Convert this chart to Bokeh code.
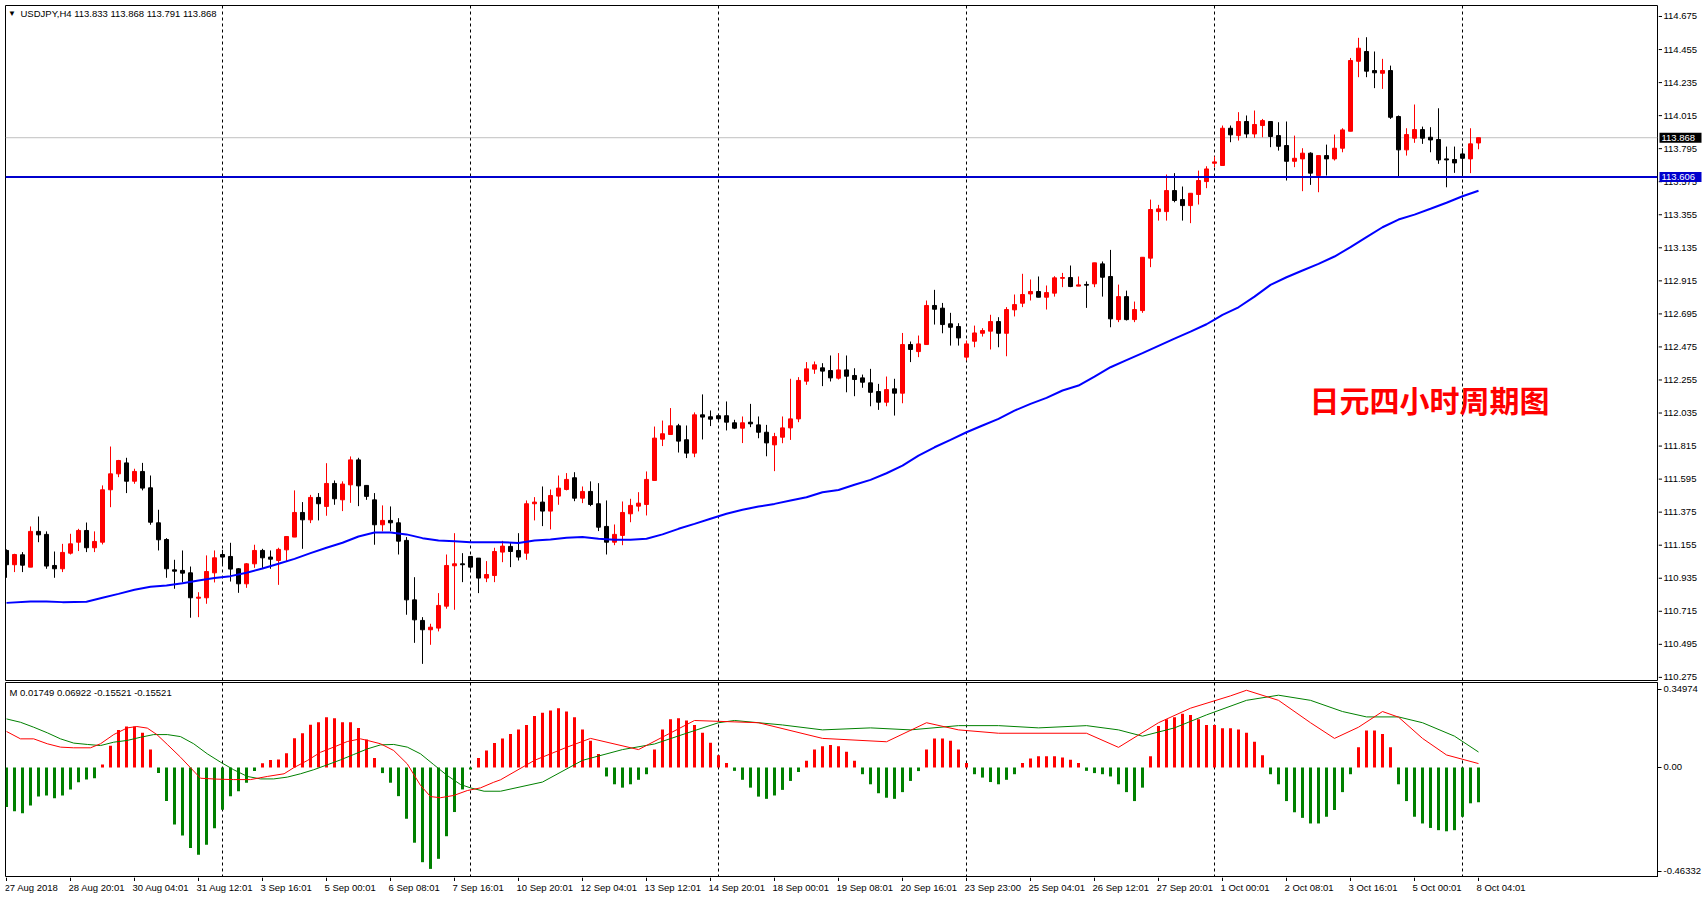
from bokeh.plotting import figure
from bokeh.layouts import column, row
from bokeh.models import (Range1d, FixedTicker, Label, Span, CustomJSTickFormatter, ColumnDataSource)
from bokeh.core.properties import value
from bokeh.embed import file_html
from bokeh.resources import INLINE

# ---------------- data (USDJPY H4) ----------------
opens = [111.120, 111.025, 111.091, 111.009, 111.247, 111.227, 111.020, 110.998, 111.102, 111.175,
         111.253, 111.138, 111.175, 111.524, 111.630, 111.703, 111.581, 111.646, 111.537, 111.304,
         111.193, 110.991, 110.987, 110.971, 110.802, 110.805, 110.971, 111.093, 111.080, 110.998,
         110.898, 111.031, 111.120, 111.076, 111.053, 111.124, 111.209, 111.373, 111.324, 111.473,
         111.413, 111.566, 111.457, 111.557, 111.723, 111.553, 111.457, 111.291, 111.320, 111.304,
         111.187, 110.791, 110.654, 110.592, 110.603, 110.749, 111.018, 111.031, 111.080, 111.069,
         110.936, 110.953, 111.109, 111.147, 111.120, 111.102, 111.431, 111.442, 111.382, 111.482,
         111.526, 111.604, 111.468, 111.513, 111.431, 111.280, 111.175, 111.220, 111.364, 111.415,
         111.426, 111.586, 111.861, 111.892, 111.950, 111.857, 111.768, 112.023, 112.010, 112.017,
         112.017, 111.970, 111.934, 111.974, 111.956, 111.907, 111.823, 111.874, 111.936, 111.996,
         112.247, 112.327, 112.336, 112.318, 112.267, 112.322, 112.285, 112.269, 112.236, 112.178,
         112.107, 112.196, 112.167, 112.491, 112.444, 112.491, 112.751, 112.733, 112.629, 112.611,
         112.407, 112.513, 112.566, 112.580, 112.644, 112.566, 112.722, 112.766, 112.828, 112.844,
         112.806, 112.833, 112.932, 112.937, 112.880, 112.891, 112.895, 113.028, 112.944, 112.657,
         112.810, 112.657, 112.717, 113.066, 113.376, 113.376, 113.516, 113.456, 113.416, 113.490,
         113.576, 113.698, 113.683, 113.931, 113.882, 113.976, 113.893, 113.949, 113.976, 113.882,
         113.816, 113.711, 113.727, 113.765, 113.616, 113.749, 113.727, 113.798, 113.911, 114.377,
         114.442, 114.315, 114.297, 114.315, 114.009, 113.787, 113.865, 113.922, 113.871, 113.856,
         113.727, 113.723, 113.760, 113.727, 113.833]
highs = [111.127, 111.098, 111.109, 111.280, 111.346, 111.247, 111.113, 111.164, 111.231, 111.264,
         111.306, 111.247, 111.553, 111.812, 111.723, 111.737, 111.664, 111.703, 111.619, 111.391,
         111.202, 111.058, 111.120, 111.013, 110.842, 111.087, 111.120, 111.124, 111.171, 111.002,
         111.036, 111.158, 111.131, 111.120, 111.138, 111.213, 111.520, 111.442, 111.490, 111.502,
         111.701, 111.586, 111.580, 111.746, 111.737, 111.553, 111.502, 111.420, 111.413, 111.335,
         111.209, 110.942, 110.676, 110.632, 110.836, 111.093, 111.235, 111.102, 111.080, 111.069,
         111.049, 111.138, 111.184, 111.169, 111.235, 111.453, 111.475, 111.546, 111.526, 111.619,
         111.635, 111.641, 111.546, 111.580, 111.568, 111.453, 111.293, 111.446, 111.464, 111.508,
         111.646, 111.945, 111.985, 112.068, 111.963, 111.952, 112.039, 112.159, 112.052, 112.030,
         112.112, 111.990, 112.012, 112.096, 112.012, 111.956, 111.903, 112.012, 112.263, 112.274,
         112.374, 112.378, 112.367, 112.418, 112.434, 112.418, 112.333, 112.291, 112.329, 112.229,
         112.278, 112.263, 112.568, 112.511, 112.551, 112.784, 112.855, 112.768, 112.702, 112.633,
         112.518, 112.617, 112.600, 112.689, 112.673, 112.740, 112.824, 112.962, 112.924, 112.944,
         112.884, 112.946, 112.968, 113.017, 112.944, 112.911, 113.035, 113.044, 113.121, 112.890,
         112.850, 112.777, 113.072, 113.456, 113.421, 113.623, 113.632, 113.543, 113.498, 113.649,
         113.678, 113.743, 113.949, 113.949, 114.038, 114.016, 114.049, 113.993, 113.976, 113.971,
         113.976, 113.882, 113.798, 113.771, 113.749, 113.822, 113.889, 113.931, 114.399, 114.533,
         114.537, 114.442, 114.393, 114.348, 114.016, 113.931, 114.089, 113.942, 113.938, 114.064,
         113.809, 113.809, 113.798, 113.931, 113.868]
lows = [110.938, 110.976, 110.976, 111.009, 111.175, 110.998, 110.938, 110.976, 111.093, 111.116,
        111.109, 111.109, 111.160, 111.408, 111.608, 111.502, 111.564, 111.520, 111.291, 111.120,
        110.938, 110.865, 110.907, 110.672, 110.676, 110.765, 110.907, 111.020, 110.913, 110.838,
        110.871, 111.004, 111.004, 110.998, 110.891, 111.049, 111.209, 111.131, 111.302, 111.320,
        111.351, 111.424, 111.382, 111.437, 111.415, 111.457, 111.158, 111.247, 111.247, 111.093,
        110.692, 110.505, 110.365, 110.492, 110.581, 110.732, 110.725, 110.909, 110.982, 110.836,
        110.909, 110.909, 111.042, 111.009, 111.053, 111.058, 111.320, 111.282, 111.260, 111.424,
        111.520, 111.448, 111.435, 111.415, 111.249, 111.093, 111.155, 111.155, 111.308, 111.380,
        111.353, 111.586, 111.815, 111.892, 111.772, 111.735, 111.741, 111.859, 111.948, 111.986,
        111.919, 111.928, 111.835, 111.941, 111.867, 111.747, 111.648, 111.834, 111.856, 111.974,
        112.223, 112.296, 112.214, 112.245, 112.258, 112.173, 112.147, 112.203, 112.080, 112.056,
        112.080, 112.018, 112.100, 112.374, 112.407, 112.491, 112.624, 112.566, 112.484, 112.484,
        112.385, 112.473, 112.544, 112.458, 112.473, 112.413, 112.678, 112.740, 112.784, 112.806,
        112.724, 112.810, 112.873, 112.873, 112.880, 112.735, 112.873, 112.810, 112.606, 112.640,
        112.651, 112.640, 112.702, 113.006, 113.316, 113.316, 113.438, 113.316, 113.299, 113.423,
        113.532, 113.672, 113.683, 113.838, 113.849, 113.867, 113.867, 113.871, 113.805, 113.782,
        113.583, 113.672, 113.512, 113.554, 113.505, 113.616, 113.716, 113.771, 113.911, 114.271,
        114.271, 114.198, 114.193, 113.993, 113.609, 113.749, 113.834, 113.827, 113.771, 113.694,
        113.538, 113.634, 113.605, 113.632, 113.791]
closes = [111.025, 111.093, 111.022, 111.247, 111.224, 111.016, 110.998, 111.107, 111.164, 111.253,
          111.138, 111.180, 111.524, 111.630, 111.719, 111.581, 111.646, 111.535, 111.308, 111.191,
          110.998, 110.982, 110.969, 110.805, 110.809, 110.980, 111.071, 111.076, 110.996, 110.898,
          111.031, 111.120, 111.071, 111.062, 111.127, 111.213, 111.373, 111.324, 111.473, 111.431,
          111.566, 111.464, 111.562, 111.723, 111.550, 111.480, 111.291, 111.320, 111.304, 111.182,
          110.791, 110.658, 110.592, 110.609, 110.754, 111.020, 111.031, 111.025, 111.009, 110.936,
          110.960, 111.113, 111.149, 111.113, 111.076, 111.431, 111.442, 111.382, 111.486, 111.535,
          111.593, 111.468, 111.513, 111.426, 111.275, 111.175, 111.227, 111.373, 111.420, 111.435,
          111.593, 111.868, 111.897, 111.950, 111.848, 111.768, 112.023, 112.008, 111.994, 111.997,
          111.974, 111.934, 111.970, 111.963, 111.907, 111.836, 111.878, 111.936, 111.996, 112.252,
          112.329, 112.356, 112.314, 112.269, 112.322, 112.280, 112.258, 112.240, 112.173, 112.107,
          112.191, 112.167, 112.491, 112.458, 112.495, 112.751, 112.726, 112.624, 112.606, 112.535,
          112.495, 112.568, 112.584, 112.644, 112.566, 112.724, 112.757, 112.824, 112.844, 112.806,
          112.837, 112.935, 112.937, 112.877, 112.888, 112.886, 113.035, 112.939, 112.662, 112.810,
          112.657, 112.724, 113.072, 113.390, 113.394, 113.516, 113.450, 113.416, 113.498, 113.583,
          113.660, 113.707, 113.931, 113.887, 113.976, 113.893, 113.956, 113.982, 113.876, 113.811,
          113.711, 113.731, 113.765, 113.632, 113.749, 113.727, 113.798, 113.920, 114.382, 114.464,
          114.311, 114.300, 114.315, 114.004, 113.787, 113.889, 113.922, 113.865, 113.853, 113.720,
          113.720, 113.700, 113.731, 113.827, 113.868]

ma_bars = [0, 3, 5, 7, 10] + list(range(12, 93, 2)) + list(range(94, 151, 2)) + [151] + list(range(152, 185, 2))
ma_vals = [110.771, 110.780, 110.780, 110.776, 110.778,
           110.805, 110.831, 110.858, 110.878, 110.887, 110.902, 110.920, 110.936, 110.949, 110.971,
           111.000, 111.031, 111.064, 111.102, 111.138, 111.171, 111.213, 111.240, 111.240, 111.227,
           111.202, 111.187, 111.182, 111.175, 111.175, 111.175, 111.169, 111.187, 111.193, 111.204,
           111.209, 111.198, 111.191, 111.191, 111.198, 111.227, 111.264, 111.297, 111.331, 111.364,
           111.391,
           111.412, 111.430, 111.452, 111.474, 111.508, 111.523, 111.557, 111.590, 111.634, 111.685,
           111.752, 111.807, 111.856, 111.907, 111.952, 111.996, 112.051, 112.096, 112.136, 112.185,
           112.218, 112.278, 112.340, 112.387, 112.434, 112.482, 112.530, 112.577, 112.626,
           112.657,
           112.688, 112.739, 112.810, 112.888, 112.939, 112.984, 113.028, 113.077, 113.139, 113.206,
           113.272, 113.323, 113.356, 113.395, 113.435, 113.478, 113.515]

hline_price = 113.606
bid_price = 113.868
price_ticks = [110.275 + 0.22 * k for k in range(21)]
week_start_bars = [27, 58, 89, 120, 151, 182]

label_bars = list(range(0, 185, 8))
date_labels = ["27 Aug 2018", "28 Aug 20:01", "30 Aug 04:01", "31 Aug 12:01", "3 Sep 16:01",
               "5 Sep 00:01", "6 Sep 08:01", "7 Sep 16:01", "10 Sep 20:01", "12 Sep 04:01",
               "13 Sep 12:01", "14 Sep 20:01", "18 Sep 00:01", "19 Sep 08:01", "20 Sep 16:01",
               "23 Sep 23:00", "25 Sep 04:01", "26 Sep 12:01", "27 Sep 20:01", "1 Oct 00:01",
               "2 Oct 08:01", "3 Oct 16:01", "5 Oct 00:01", "8 Oct 04:01"]

hist = [-0.177, -0.195, -0.204, -0.170, -0.130, -0.125, -0.137, -0.125, -0.098, -0.066,
        -0.054, -0.048, 0.013, 0.097, 0.168, 0.183, 0.183, 0.155, 0.080, -0.025,
        -0.150, -0.255, -0.304, -0.360, -0.390, -0.345, -0.271, -0.189, -0.128, -0.106,
        -0.068, -0.016, 0.019, 0.034, 0.036, 0.064, 0.131, 0.153, 0.191, 0.202,
        0.225, 0.220, 0.202, 0.202, 0.176, 0.125, 0.042, -0.025, -0.068, -0.128,
        -0.229, -0.336, -0.423, -0.453, -0.408, -0.307, -0.199, -0.098, -0.009, 0.042,
        0.076, 0.109, 0.13, 0.15, 0.17, 0.19, 0.23, 0.245, 0.255, 0.265,
        0.25, 0.225, 0.17, 0.12, 0.06, -0.04, -0.075, -0.09, -0.075, -0.055,
        -0.03, 0.08, 0.17, 0.215, 0.22, 0.21, 0.19, 0.155, 0.11, 0.055,
        0.02, -0.015, -0.055, -0.09, -0.13, -0.14, -0.125, -0.1, -0.06, -0.02,
        0.03, 0.08, 0.095, 0.10, 0.095, 0.07, 0.03, -0.03, -0.075, -0.115,
        -0.135, -0.14, -0.11, -0.06, -0.016, 0.08, 0.13, 0.13, 0.12, 0.08,
        0.02, -0.03, -0.045, -0.065, -0.075, -0.055, -0.03, 0.02, 0.04, 0.05,
        0.05, 0.05, 0.045, 0.035, 0.02, -0.015, -0.025, -0.03, -0.04, -0.075,
        -0.11, -0.15, -0.09, 0.05, 0.185, 0.215, 0.225, 0.24, 0.235, 0.215,
        0.19, 0.19, 0.175, 0.175, 0.17, 0.155, 0.115, 0.055, -0.03, -0.075,
        -0.15, -0.2, -0.225, -0.25, -0.25, -0.22, -0.19, -0.11, -0.03, 0.09,
        0.165, 0.165, 0.15, 0.09, -0.075, -0.15, -0.22, -0.25, -0.27, -0.28,
        -0.285, -0.28, -0.22, -0.16, -0.15521]

red_idx = [0, 1.75, 3.4, 5.1, 6.75, 8.4, 10.5, 11.75, 13.4, 15.1,
           16.3, 17.6, 18.8, 20.1, 21.75, 23, 24.25, 26.3, 28.4, 30.5,
           32.6, 34.7, 35.9, 37.6, 39.25, 40.9, 42.6, 44.25, 45.1, 46.75,
           48.4, 50.1, 51.75, 53, 54.25, 55.9, 57.6, 59.25, 60.9, 61.75,
           66, 70, 73, 79, 86, 94, 102, 110, 115, 119,
           124, 135, 139, 144, 148, 153, 155, 159, 163, 166,
           169, 172, 174, 177, 180, 184]
red_val = [0.161, 0.128, 0.128, 0.106, 0.091, 0.088, 0.088, 0.106, 0.147, 0.177,
           0.183, 0.176, 0.147, 0.103, 0.046, -0.001, -0.048, -0.052, -0.054, -0.054,
           -0.040, -0.028, -0.001, 0.031, 0.068, 0.091, 0.116, 0.128, 0.121, 0.106,
           0.076, 0.016, -0.080, -0.130, -0.135, -0.125, -0.103, -0.091, -0.066, -0.055,
           0.032, 0.090, 0.13, 0.08, 0.21, 0.20, 0.13, 0.115, 0.20, 0.168,
           0.153, 0.153, 0.09, 0.20, 0.265, 0.32, 0.345, 0.30, 0.20, 0.13,
           0.18, 0.25, 0.225, 0.13, 0.056, 0.01749]

green_idx = [0, 1.75, 3.4, 5.1, 6.75, 8.4, 10.1, 11.75, 13.4, 15.1,
             16.75, 18.4, 20.1, 21.75, 23.4, 25.1, 26.75, 28.4, 30.1, 31.75,
             33.4, 35.1, 36.75, 38.4, 40.1, 41.75, 43.4, 45.1, 46.75, 48.4,
             50.1, 51.75, 53.4, 55.1, 56.75, 58, 59.7, 61.75, 67, 72,
             77, 81, 85, 89, 91, 97, 102, 108, 113, 119,
             124, 129, 135, 139, 142, 146, 150, 155, 159, 163,
             167, 170, 174, 177, 181, 184]
green_val = [0.217, 0.202, 0.180, 0.155, 0.128, 0.109, 0.103, 0.098, 0.113, 0.121,
             0.135, 0.147, 0.147, 0.138, 0.106, 0.061, 0.024, -0.010, -0.040, -0.051,
             -0.051, -0.043, -0.028, -0.010, 0.012, 0.034, 0.058, 0.083, 0.101, 0.103,
             0.091, 0.061, 0.013, -0.036, -0.076, -0.091, -0.106, -0.106, -0.065, 0.032,
             0.08, 0.105, 0.153, 0.20, 0.21, 0.19, 0.168, 0.177, 0.168, 0.187,
             0.187, 0.177, 0.187, 0.168, 0.14, 0.177, 0.235, 0.30, 0.323, 0.30,
             0.25, 0.226, 0.226, 0.20, 0.14, 0.06922]

ind_ticks = [0.34974, 0.0, -0.46332]
title_text = "USDJPY,H4  113.833 113.868 113.791 113.868"
ind_text = "M 0.01749 0.06922 -0.15521 -0.15521"
cn_title = "日元四小时周期图"

FONT = "Liberation Sans"
FS = "9.5px"

n = len(opens)
bars = list(range(n))
x_range = Range1d(-0.125, 206.375)
price_range = Range1d(110.2542, 114.7482)


def bare(fig):
    fig.grid.visible = False
    return fig


# ---------------- main price panel ----------------
main = bare(figure(frame_width=1652, frame_height=675, x_range=x_range, y_range=price_range,
                   output_backend="svg", toolbar_location=None,
                   x_axis_location=None, y_axis_location=None,
                   min_border_left=5, min_border_right=1, min_border_top=5, min_border_bottom=2,
                   background_fill_color="white", border_fill_color="white",
                   outline_line_color="black", outline_line_width=1))

for b in week_start_bars:
    main.add_layout(Span(location=b, dimension="height", line_color="black",
                         line_dash="3 3", line_width=1, level="underlay"))
main.add_layout(Span(location=bid_price, dimension="width", line_color="#c0c0c0",
                     line_width=1, level="underlay"))

colors = ["#ff0000" if c >= o else "#000000" for o, c in zip(opens, closes)]
src = ColumnDataSource(dict(
    x=bars, h=highs, l=lows,
    top=[max(o, c) for o, c in zip(opens, closes)],
    bottom=[min(o, c) for o, c in zip(opens, closes)],
    color=colors))
main.segment(x0="x", y0="h", x1="x", y1="l", line_color="color", line_width=1, source=src)
main.vbar(x="x", width=0.5, top="top", bottom="bottom", fill_color="color",
          line_color="color", line_width=1, source=src)

main.line(ma_bars, ma_vals, line_color="#0000ff", line_width=2)
main.add_layout(Span(location=hline_price, dimension="width", line_color="#0000cd", line_width=2))

main.add_layout(Label(x=6.5, y=667, x_units="screen", y_units="screen", text="▼",
                      text_font=FONT, text_font_size="8px", text_color="black",
                      text_align="center", text_baseline="middle"))
main.add_layout(Label(x=15, y=667, x_units="screen", y_units="screen", text=title_text,
                      text_font=FONT, text_font_size=FS, text_color="black",
                      text_align="left", text_baseline="middle"))
main.add_layout(Label(x=1424, y=282, x_units="screen", y_units="screen", text=cn_title,
                      text_font="Noto Sans CJK SC", text_font_style="bold",
                      text_font_size="30px", text_color="#ff0000",
                      text_align="center", text_baseline="middle"))

# ---------------- price scale panel (right of the main chart) ----------------
pax = bare(figure(frame_width=44, frame_height=675, x_range=Range1d(0, 44), y_range=price_range,
                  output_backend="svg", toolbar_location=None,
                  x_axis_location=None, y_axis_location=None,
                  min_border_left=0, min_border_right=0, min_border_top=5, min_border_bottom=2,
                  background_fill_color="white", border_fill_color="white",
                  outline_line_color=None))
pax.segment(x0=0, x1=3.5, y0=price_ticks, y1=price_ticks, line_color="black", line_width=1)
pax.text(x=5, y=price_ticks, text=[f"{t:.3f}" for t in price_ticks],
         text_font=value(FONT), text_font_size=value(FS), text_color="black",
         text_align="left", text_baseline="middle")
tag_prices = [bid_price, hline_price]
tag_colors = ["#000000", "#0000cd"]
pax.rect(x=22, y=tag_prices, width=42, height=10, height_units="screen",
         fill_color=tag_colors, line_color=None)
pax.text(x=3, y=tag_prices, text=[f"{t:.3f}" for t in tag_prices],
         text_font=value(FONT), text_font_size=value(FS), text_color="white",
         text_align="left", text_baseline="middle")

# ---------------- indicator panel ----------------
ind = bare(figure(frame_width=1652, frame_height=195, x_range=x_range,
                  y_range=Range1d(-0.4914, 0.3797),
                  output_backend="svg", toolbar_location=None,
                  x_axis_location=None, y_axis_location="right",
                  min_border_left=5, min_border_right=45, min_border_top=0, min_border_bottom=0,
                  background_fill_color="white", border_fill_color="white",
                  outline_line_color="black", outline_line_width=1))

iy = ind.yaxis[0]
iy.ticker = FixedTicker(ticks=ind_ticks)
iy.formatter = CustomJSTickFormatter(code="return tick == 0 ? '0.00' : tick.toFixed(5);")
iy.major_tick_out = 4
iy.major_tick_in = 0
iy.minor_tick_out = 0
iy.minor_tick_in = 0
iy.axis_line_color = "black"
iy.major_label_text_font = FONT
iy.major_label_text_font_size = FS
iy.major_label_text_color = "black"
iy.major_label_standoff = 2

for b in week_start_bars:
    ind.add_layout(Span(location=b, dimension="height", line_color="black",
                        line_dash="3 3", line_width=1, level="underlay"))

hsrc = ColumnDataSource(dict(
    x=bars,
    top=[max(v, 0) for v in hist],
    bottom=[min(v, 0) for v in hist],
    color=["#ff0000" if v > 0 else "#008000" for v in hist]))
ind.vbar(x="x", width=0.375, top="top", bottom="bottom", fill_color="color",
         line_color=None, source=hsrc)
ind.line(green_idx, green_val, line_color="#008000", line_width=1)
ind.line(red_idx, red_val, line_color="#ff0000", line_width=1)

ind.add_layout(Label(x=4, y=185, x_units="screen", y_units="screen", text=ind_text,
                     text_font=FONT, text_font_size=FS, text_color="black",
                     text_align="left", text_baseline="middle"))

# ---------------- time scale strip ----------------
tax = bare(figure(frame_width=1652, frame_height=23, x_range=x_range, y_range=Range1d(0, 23),
                  output_backend="svg", toolbar_location=None,
                  x_axis_location=None, y_axis_location=None,
                  min_border_left=5, min_border_right=45, min_border_top=0, min_border_bottom=0,
                  background_fill_color="white", border_fill_color="white",
                  outline_line_color=None))
tax.segment(x0=label_bars, x1=label_bars, y0=23, y1=19.5, line_color="black", line_width=1)
tax.text(x=label_bars, y=13, text=date_labels, x_offset=-2,
         text_font=value(FONT), text_font_size=value(FS), text_color="black",
         text_align="left", text_baseline="middle")

layout = column(row(main, pax, spacing=0), ind, tax, spacing=0)
open("out.html", "w").write(file_html(layout, INLINE, "USDJPY H4"))
